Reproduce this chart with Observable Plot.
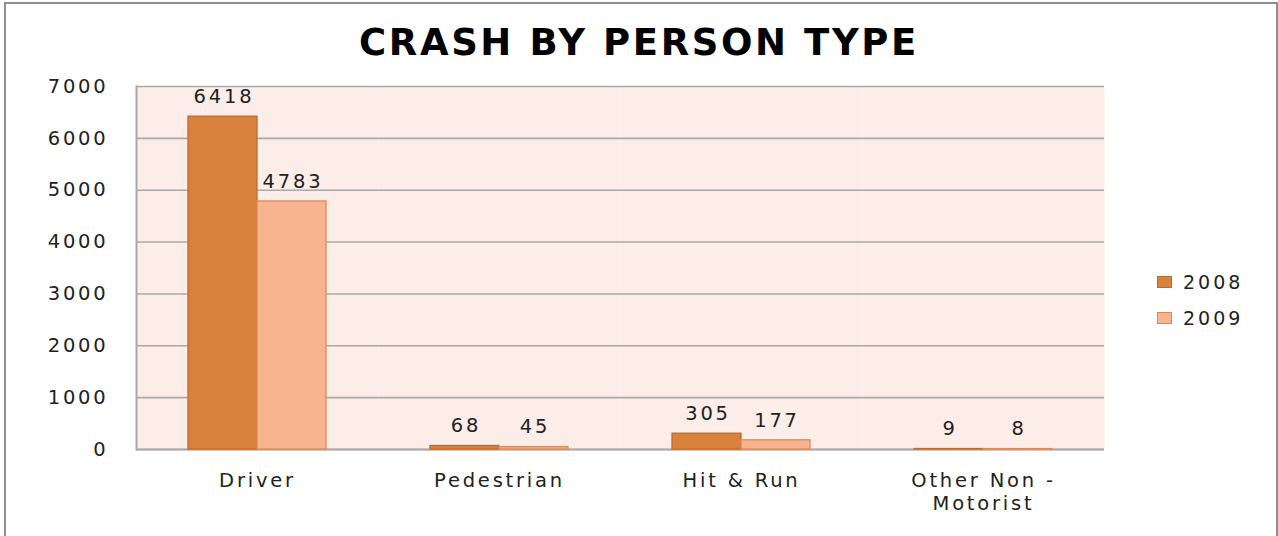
<!DOCTYPE html>
<html>
<head>
<meta charset="utf-8">
<script src="https://cdn.jsdelivr.net/npm/d3@7"></script>
<script src="https://cdn.jsdelivr.net/npm/@observablehq/plot@0.6"></script>
<style>
  html, body { margin: 0; padding: 0; background: #fff; }
  body { width: 1278px; height: 536px; position: relative; overflow: hidden; font-family: "DejaVu Sans", sans-serif; }
  #box { position: absolute; left: 4px; top: 2px; width: 1274px; height: 560px; border: 2.5px solid #8e8e8e; box-sizing: border-box; }
  #title { position: absolute; left: 0; width: 1278px; top: 21px; text-align: center; font-family: "DejaVu Sans", sans-serif; font-weight: bold; font-size: 37px; letter-spacing: 2.6px; color: #000; }
  #chart { position: absolute; left: 0; top: 0; }
  #legend { position: absolute; left: 1157px; top: 270px; font-size: 19px; letter-spacing: 3px; color: #222; }
  .item { display: flex; align-items: center; height: 24px; margin-bottom: 12px; }
  .sw { width: 15px; height: 12px; box-sizing: border-box; margin-right: 11px; }
</style>
</head>
<body>
<div id="box"></div>
<div id="chart"></div>
<div id="title">CRASH BY PERSON TYPE</div>
<div id="legend"></div>
<script>
const categories = ["Driver", "Pedestrian", "Hit & Run", "Other Non - Motorist"];
const categoryLabels = ["Driver", "Pedestrian", "Hit & Run", "Other Non -\nMotorist"];
const years = ["2008", "2009"];
const values2008 = [6418, 68, 305, 9];
const values2009 = [4783, 45, 177, 8];
const yTicks = [0, 1000, 2000, 3000, 4000, 5000, 6000, 7000];
const fills = ["#d9823d", "#f8b48e"];
const strokes = ["#c06a2a", "#dc8a55"];

const data = [];
categories.forEach((c, i) => {
  data.push({cat: c, year: years[0], value: values2008[i]});
  data.push({cat: c, year: years[1], value: values2009[i]});
});
const labelOf = Object.fromEntries(categories.map((c, i) => [c, categoryLabels[i]]));

const chart = Plot.plot({
  width: 1278,
  height: 536,
  marginLeft: 135,
  marginRight: 173,
  marginTop: 86,
  marginBottom: 87,
  style: {fontFamily: "DejaVu Sans, sans-serif", fontSize: "19.5px", letterSpacing: "2.8px", color: "#222", background: "transparent", overflow: "visible"},
  fx: {domain: categories, padding: 0, label: null},
  x: {domain: years, paddingInner: 0, paddingOuter: 0.73, axis: null},
  y: {domain: [0, 7000], label: null},
  marks: [
    Plot.frame({fill: "#fcede8", stroke: null}),
    Plot.gridY(yTicks, {stroke: "#a9a9a9", strokeOpacity: 1, strokeWidth: 1.6}),
    Plot.frame({facet: "super", anchor: "left", stroke: "#a9a9a9", strokeWidth: 2}),
    Plot.ruleY([0], {stroke: "#a9a9a9", strokeWidth: 2}),
    Plot.barY(data.filter(d => d.year === years[0]), {fx: "cat", x: "year", y: "value", fill: fills[0], stroke: strokes[0], strokeWidth: 1.3}),
    Plot.barY(data.filter(d => d.year === years[1]), {fx: "cat", x: "year", y: "value", fill: fills[1], stroke: strokes[1], strokeWidth: 1.3}),
    Plot.text(data, {fx: "cat", x: "year", y: "value", text: d => String(d.value), dy: -20, fill: "#222", dx: 1}),
    Plot.axisY({ticks: yTicks, tickFormat: d3.format("d"), tickSize: 0, tickPadding: 28, fill: "#222"}),
    Plot.axisFx({anchor: "bottom", tickSize: 0, tickPadding: 22, label: null, tickFormat: d => labelOf[d], lineHeight: 1.15, fill: "#222"})
  ]
});
document.getElementById("chart").append(chart);

const legend = document.getElementById("legend");
years.forEach((y, i) => {
  const item = document.createElement("div");
  item.className = "item";
  const sw = document.createElement("div");
  sw.className = "sw";
  sw.style.background = fills[i];
  sw.style.border = "1.3px solid " + strokes[i];
  const t = document.createElement("span");
  t.textContent = y;
  item.append(sw, t);
  legend.append(item);
});
</script>
</body>
</html>
